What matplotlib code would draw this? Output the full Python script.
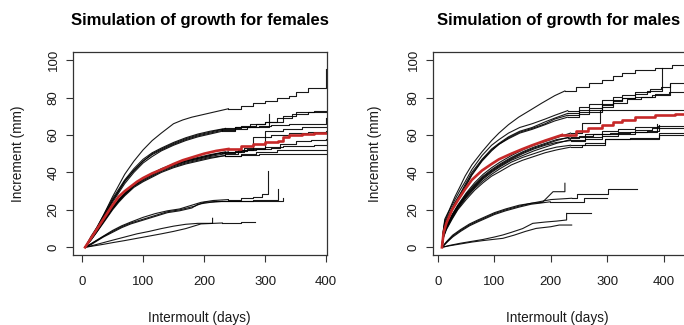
import matplotlib
matplotlib.use("Agg")
import matplotlib.pyplot as plt

plt.rcParams['font.family'] = ['Liberation Sans', 'DejaVu Sans']

# ---- females: (day, increment mm) for each simulated animal ----
fem_top = [
    [(5, 0), (15, 5), (25, 11), (35, 17), (50, 27), (60, 33), (70, 39), (85, 46), (100, 52), (115, 57),
     (130, 61), (150, 66), (165, 68), (180, 69.5), (200, 71), (220, 72.5), (240, 74), (260, 75.5),
     (280, 77), (300, 78), (320, 79.5), (340, 81), (350, 83), (370, 85), (400, 85), (400, 95)],
]
fem_upper = [
    [(5, 0), (15, 5), (25, 10), (35, 16), (50, 25), (60, 30), (70, 35), (85, 41), (100, 46), (115, 49.5),
     (130, 52), (150, 55), (170, 57.5), (190, 59.5), (210, 61), (230, 62.5), (250, 64), (270, 64.5),
     (290, 65), (310, 65.5), (340, 66), (400, 66), (400, 69)],
    [(5, 0), (15, 6), (25, 11), (35, 17), (50, 26), (60, 31), (70, 36), (85, 42), (100, 47), (115, 50.5),
     (130, 53), (150, 56), (170, 58.5), (190, 60.5), (210, 62), (235, 63.5), (260, 65), (285, 66),
     (300, 67), (330, 70), (350, 72), (380, 73), (400, 73)],
    [(5, 0), (15, 5), (25, 10), (35, 15.5), (50, 24), (60, 29), (70, 34), (85, 40), (100, 45), (115, 48.5),
     (130, 51.5), (150, 54.5), (170, 57), (190, 59), (210, 60.5), (230, 62), (250, 63), (270, 64),
     (306, 64), (306, 71)],
    [(5, 0), (15, 5.5), (25, 10.5), (35, 16), (50, 25), (60, 30), (70, 35.5), (85, 41), (100, 46), (115, 50),
     (130, 52.5), (150, 55.5), (170, 58), (190, 60), (210, 61.5), (230, 63), (250, 64.5), (275, 66),
     (300, 67), (320, 69), (345, 71), (370, 72), (400, 72)],
]
fem_lower = [
    [(5, 0), (15, 4.5), (25, 9), (35, 14), (50, 21), (60, 25), (70, 28.5), (85, 33), (100, 36.5), (115, 39),
     (130, 41.5), (150, 44), (170, 46), (190, 47.5), (210, 49), (230, 50.5), (250, 51.5), (270, 52.5),
     (300, 53), (300, 62), (330, 63), (360, 64), (400, 64)],
    [(5, 0), (15, 4.5), (25, 9.5), (35, 14.5), (50, 21.5), (60, 25.5), (70, 29), (85, 33.5), (100, 37),
     (115, 39.5), (130, 42), (150, 44.5), (170, 46.5), (190, 48), (210, 49.5), (235, 51), (260, 52),
     (285, 52.5), (310, 53), (325, 55), (350, 57), (375, 57.5), (400, 58)],
    [(5, 0), (15, 4), (25, 8.5), (35, 13.5), (50, 20.5), (60, 24.5), (70, 28), (85, 32.5), (100, 35.5),
     (115, 38), (130, 40.5), (150, 43), (170, 45), (190, 46.5), (210, 48), (235, 49), (260, 49.5),
     (290, 50), (400, 50)],
    [(5, 0), (15, 4.5), (25, 9), (35, 14), (50, 21), (60, 25), (70, 28.5), (85, 33), (100, 36), (115, 38.5),
     (130, 41), (150, 43.5), (170, 45.5), (190, 47), (210, 48.5), (235, 50), (255, 52), (280, 53),
     (300, 53.5), (330, 54), (380, 54.5), (400, 54.5)],
    [(5, 0), (15, 4), (25, 8.5), (35, 13), (50, 20), (60, 24), (70, 27.5), (85, 32), (100, 35), (115, 37.5),
     (130, 40), (150, 42.5), (170, 44.5), (190, 46), (210, 47.5), (235, 49), (260, 50), (285, 51),
     (320, 52), (400, 52)],
    [(5, 0), (15, 4.5), (25, 9), (35, 14), (50, 21), (60, 25), (70, 28.5), (85, 33), (100, 36.5), (115, 39),
     (130, 41.5), (150, 44), (170, 46), (190, 47.5), (215, 49.5), (240, 51), (265, 53), (280, 53),
     (280, 59), (310, 60), (340, 61), (370, 61.5), (400, 62)],
]
fem_low = [
    [(5, 0), (15, 2), (25, 4), (35, 6), (50, 9), (65, 11.5), (80, 13.5), (100, 16), (120, 18), (140, 19.5),
     (160, 20.5), (180, 22.5), (195, 24), (215, 25), (240, 25.5), (260, 26.5), (280, 27), (295, 28.5),
     (305, 28.5), (305, 40.5)],
    [(5, 0), (15, 1.8), (25, 3.8), (35, 5.8), (50, 8.5), (65, 11), (80, 13), (100, 15), (120, 17), (140, 19),
     (160, 20), (185, 22), (200, 24), (220, 24.5), (250, 25), (280, 25.5), (322, 25.5), (322, 31)],
    [(5, 0), (15, 1.5), (25, 3.5), (35, 5.5), (50, 8), (65, 10.5), (80, 12.5), (100, 14.5), (120, 16.5),
     (140, 18.5), (160, 19.5), (180, 21), (190, 23), (210, 24), (230, 24.5), (250, 25), (330, 25),
     (330, 26.5)],
]
fem_lowest = [
    [(5, 0), (20, 1.2), (35, 2.5), (50, 3.8), (70, 5.5), (90, 7.2), (110, 8.5), (130, 10), (150, 11.3),
     (170, 12.3), (190, 12.8), (214, 12.8), (214, 15.5)],
    [(5, 0), (20, 0.8), (35, 1.6), (50, 2.5), (70, 3.6), (90, 4.8), (110, 6), (130, 7.2), (150, 8.5),
     (170, 10), (180, 11), (195, 12.5), (230, 13), (260, 13.3), (284, 13.3)],
]
fem_mean = [(5, 0), (12, 3.5), (20, 7.5), (30, 12.5), (40, 17.5), (50, 22.5), (60, 27), (70, 30), (80, 32.5),
            (90, 35), (100, 37), (115, 39.5), (130, 41.5), (150, 44.5), (165, 46.5), (180, 48), (200, 50),
            (220, 51.5), (240, 52.5), (260, 54), (280, 55), (300, 56), (315, 56.5), (322, 57), (330, 59),
            (340, 60), (360, 60.5), (380, 61), (400, 61)]

# ---- males ----
mal_top = [
    [(7, 0), (9, 8), (12, 15), (20, 20), (30, 27), (40, 33), (48, 38), (60, 44), (78, 51), (95, 57),
     (108, 61), (125, 65.5), (143, 69.5), (165, 73.5), (184, 77), (207, 81), (225, 83.5), (245, 85.5),
     (267, 87.5), (290, 89.5), (310, 91.5), (326, 93), (350, 94.5), (385, 95.6), (405, 96), (415, 97.3),
     (440, 98)],
]
mal_upper = [
    [(7, 0), (9, 7), (12, 13), (20, 18), (30, 24), (40, 29), (48, 33.5), (60, 40), (78, 47), (95, 52.5),
     (108, 55.5), (125, 59), (145, 62), (167, 64), (190, 67), (207, 69), (230, 71.5), (250, 73.5),
     (267, 74.5), (290, 76.5), (310, 78.5), (326, 80), (350, 82), (370, 83.5), (397, 84.5), (397, 95.5)],
    [(7, 0), (9, 8), (12, 14), (20, 19.5), (30, 25.5), (40, 31), (48, 35), (60, 41.5), (78, 49), (95, 54.5),
     (108, 57.5), (125, 61), (145, 64), (167, 66), (190, 68.5), (207, 70.5), (230, 73), (250, 75),
     (267, 76.5), (290, 78.5), (310, 80.5), (326, 81.5), (350, 83), (375, 84.5), (395, 85.5),
     (411, 87.5), (440, 87.5)],
    [(7, 0), (9, 6), (12, 12), (20, 17), (30, 23), (40, 28), (48, 32), (60, 38.5), (78, 46), (95, 51.5),
     (108, 55), (125, 58.5), (145, 61.5), (167, 63.5), (190, 66), (207, 68.5), (230, 70.5), (250, 72.5),
     (267, 73.5), (290, 76), (310, 78), (326, 79.5), (350, 80.5), (380, 81.5), (411, 82), (411, 87)],
    [(7, 0), (9, 6.5), (12, 12.5), (20, 17.5), (30, 23.5), (40, 28.5), (48, 32.5), (60, 39), (78, 46.5),
     (95, 52), (108, 55), (125, 58), (145, 61), (167, 63), (190, 65.5), (207, 67.5), (230, 69.5),
     (250, 71), (267, 72.5), (290, 75), (310, 77), (335, 79), (360, 80.5), (385, 82), (410, 83),
     (440, 83)],
]
mal_mid = [
    [(7, 0), (10, 7), (15, 11.5), (25, 17.5), (35, 22.5), (50, 29), (65, 34.5), (80, 39), (95, 42.5),
     (110, 45.5), (130, 49), (150, 52), (170, 54.5), (190, 56.5), (210, 58.5), (235, 61), (255, 66.5),
     (287, 67), (287, 73.5), (440, 73.5)],
    [(7, 0), (10, 6.5), (15, 11), (25, 17), (35, 22), (50, 28), (65, 33), (80, 37.5), (95, 41), (110, 44),
     (130, 47.5), (150, 50.5), (170, 53), (190, 55), (210, 57), (235, 59), (260, 60.5), (290, 62),
     (320, 63), (350, 64), (390, 65), (440, 65)],
    [(7, 0), (10, 6), (15, 10.5), (25, 16), (35, 21), (50, 27), (65, 32), (80, 36.5), (95, 40), (110, 43),
     (130, 46.5), (150, 49), (170, 51.5), (190, 53.5), (210, 55.5), (235, 57.5), (260, 59), (290, 60.5),
     (320, 61.5), (350, 62.5), (380, 63.5), (440, 63.5)],
    [(7, 0), (10, 6.5), (15, 11), (25, 16.5), (35, 21.5), (50, 27.5), (65, 32.5), (80, 37), (95, 40.5),
     (110, 43.5), (130, 47), (150, 50), (170, 52.5), (190, 54.5), (210, 56), (235, 57), (260, 58),
     (290, 59.5), (320, 60.5), (350, 61.5), (388, 62), (388, 66)],
    [(7, 0), (10, 6), (15, 10), (25, 15.5), (35, 20.5), (50, 26.5), (65, 31.5), (80, 35.5), (95, 39),
     (110, 42), (130, 45.5), (150, 48), (170, 50), (190, 52), (210, 53.5), (235, 54.5), (260, 55.5),
     (296, 56), (296, 58), (340, 58.5), (391, 59), (391, 60), (440, 60)],
    [(7, 0), (10, 7), (15, 11.5), (25, 17), (35, 22), (50, 28.5), (65, 33.5), (80, 38), (95, 41.5),
     (110, 44.5), (130, 48), (150, 51), (170, 53.5), (190, 55.5), (210, 57.5), (230, 58.5), (250, 59.5),
     (275, 60.5), (305, 61), (340, 61.5), (370, 62), (391, 62), (391, 65.5)],
    [(7, 0), (10, 5.5), (15, 9.5), (25, 15), (35, 20), (50, 25.5), (65, 30.5), (80, 34.5), (95, 38),
     (110, 40.5), (130, 44), (150, 46.5), (170, 48.5), (190, 50.5), (210, 52), (235, 53.5), (255, 54.6),
     (296, 54.6), (296, 58), (391, 58), (391, 61), (440, 61)],
]
mal_low = [
    [(7, 0), (15, 3), (26, 6.5), (40, 9.5), (56, 12.5), (70, 14.5), (85, 16.5), (100, 18.5), (120, 20.5),
     (144, 22.5), (165, 23.5), (185, 24), (195, 27), (204, 29.7), (225, 29.7), (225, 34.2)],
    [(7, 0), (15, 2.5), (26, 6), (40, 9), (56, 12), (70, 14), (85, 16), (100, 18), (120, 20), (144, 22),
     (165, 23.5), (200, 25.5), (237, 26.2), (246, 28.5), (302, 28.5), (302, 31), (352, 31)],
    [(7, 0), (15, 2.5), (26, 5.5), (40, 8.5), (56, 11.5), (70, 13.5), (85, 15.5), (100, 17.5), (120, 19.5),
     (144, 21.5), (165, 23), (199, 24.3), (258, 26.2), (300, 26.2)],
]
mal_lowest = [
    [(7, 0), (20, 1), (40, 2.2), (60, 3.2), (80, 4.2), (100, 5.5), (115, 6.6), (130, 8), (150, 10),
     (168, 12.8), (190, 13.5), (210, 14), (228, 14.6), (228, 18.1), (272, 18.1)],
    [(7, 0), (20, 0.8), (40, 1.8), (60, 2.8), (80, 3.6), (100, 4.3), (115, 4.8), (135, 6.5), (155, 8.5),
     (174, 10.1), (200, 11), (215, 11.9), (237, 11.9)],
]
mal_mean = [(7, 0), (10, 8), (15, 13), (25, 20), (35, 25), (48, 31), (60, 36), (78, 41), (95, 44.5),
            (108, 47), (130, 50), (150, 52.5), (167, 54.5), (190, 57), (220, 60), (245, 62), (266, 63.5),
            (290, 65.5), (310, 67), (326, 68), (350, 69.5), (385, 70.6), (420, 71), (450, 71)]

x_ticks = [0, 100, 200, 300, 400]
y_ticks = [0, 20, 40, 60, 80, 100]

W, H = 684, 325
fig = plt.figure(figsize=(W / 100, H / 100), dpi=100)

ink = '#1a1a1a'
red = '#c62828'
SMOOTH_UNTIL = 240  # moults are tiny early on, draw that part as a plain line


def draw_curve(ax, curve, **kw):
    d, v = zip(*curve)
    k = sum(1 for x in d if x <= SMOOTH_UNTIL)
    ax.plot(d[:k], v[:k], **kw)
    ax.step(d[k - 1:], v[k - 1:], where='post', **kw)


def panel(rect, xlim, groups, mean, title, tx, ylab_x, xlab_x):
    ax = fig.add_axes(rect)
    for group in groups:
        for curve in group:
            draw_curve(ax, curve, color='black', lw=0.8, alpha=0.9)
    draw_curve(ax, mean, color=red, lw=1.9)
    ax.set_xticks(x_ticks)
    ax.set_yticks(y_ticks)
    ax.set_xlim(*xlim)
    ax.set_ylim(-4.1, 104.3)
    ax.set_xticklabels([str(t) for t in x_ticks], fontsize=9.5, color=ink)
    ax.set_yticklabels([str(t) for t in y_ticks], fontsize=9.5, color=ink, rotation=90, va='center')
    ax.tick_params(axis='both', direction='out', length=5, width=0.8, color='#333333')
    ax.tick_params(axis='x', pad=10)
    ax.tick_params(axis='y', pad=4.5)
    for s in ax.spines.values():
        s.set_linewidth(0.9)
        s.set_color('#333333')
    fig.text(tx / W, 1 - 20 / H, title, fontsize=12, fontweight='bold', ha='center', va='center',
             color='black')
    fig.text(ylab_x / W, 1 - 153.5 / H, 'Increment (mm)', fontsize=9.8, rotation=90, ha='center',
             va='center', color=ink)
    fig.text(xlab_x / W, 1 - 318 / H, 'Intermoult (days)', fontsize=9.8, ha='center', va='center',
             color=ink)
    return ax


panel([73 / W, 1 - 255 / H, 254 / W, 203 / H], (-14.8, 401.6),
      [fem_top, fem_upper, fem_lower, fem_low, fem_lowest], fem_mean,
      'Simulation of growth for females', 200, 18, 199)
panel([432.7 / W, 1 - 255 / H, 253.3 / W, 203 / H], (-9.4, 439.7),
      [mal_top, mal_upper, mal_mid, mal_low, mal_lowest], mal_mean,
      'Simulation of growth for males', 558.5, 375.3, 557)

fig.savefig('out.png', dpi=100)
